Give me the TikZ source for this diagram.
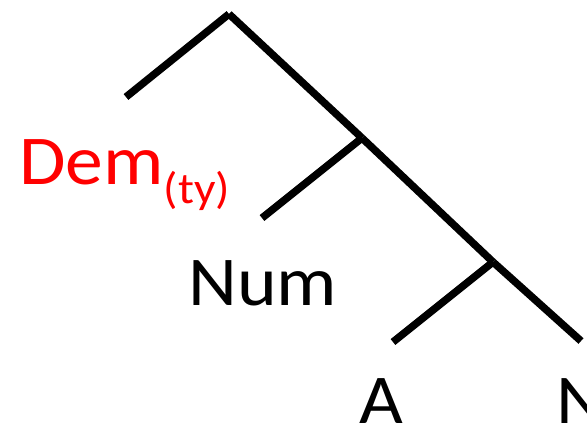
\documentclass[tikz,border=0pt]{standalone}
\usepackage{fontspec}
\setmainfont[FakeStretch=1.08]{Carlito}
\usepackage{tikz}

\begin{document}
\begin{tikzpicture}[x=1pt, y=-1pt, branch/.style={line width=7.5pt},
  every node/.style={inner sep=0pt, anchor=base west, font=\fontsize{70}{84}\selectfont}]
\useasboundingbox (0,0) rectangle (587,426);
\coordinate (top) at (229,14);
\coordinate (dp) at (362,138);
\coordinate (np) at (493,262);
\coordinate (demend) at (126,97);
\coordinate (numend) at (262,218);
\coordinate (aend) at (393,342);
\coordinate (nend) at (581,341);
\draw[branch] (top) -- (demend);
\draw[branch] (top) -- (dp);
\draw[branch] (dp) -- (numend);
\draw[branch] (dp) -- (np);
\draw[branch] (np) -- (aend);
\draw[branch] (np) -- (nend);
\node[text=red] (dem) at (19,184) {Dem\raisebox{-19pt}{\fontsize{44}{52}\selectfont(ty)}};
\node (num) at (188,305) {Num};
\node (a) at (359,423) {A};
\node (n) at (556,423) {N};
\end{tikzpicture}
\end{document}
